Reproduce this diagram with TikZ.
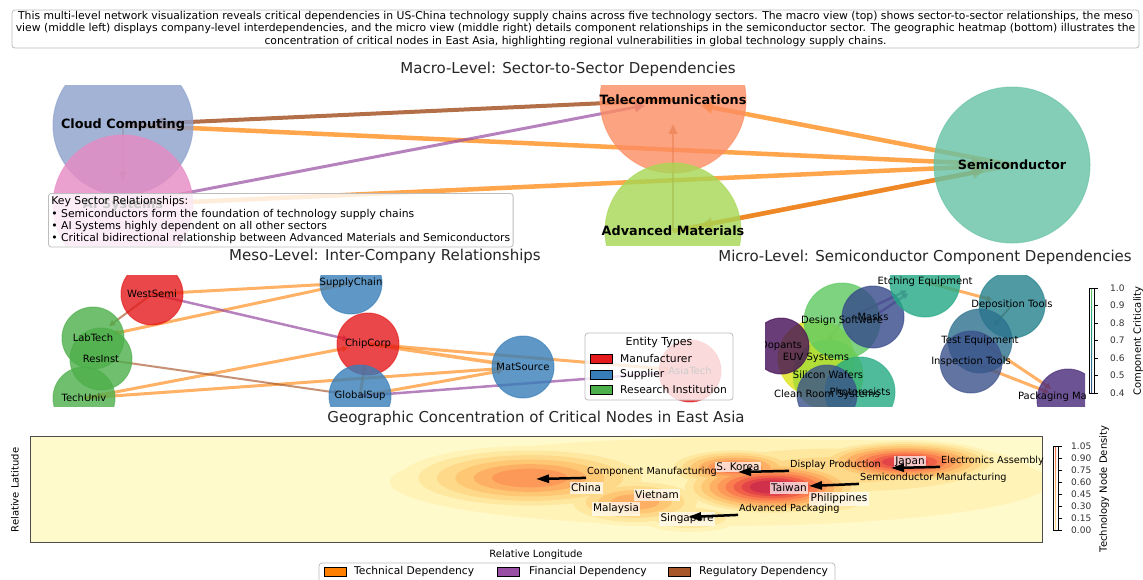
\documentclass[tikz,border=0pt]{standalone}
\usepackage{fontspec}
\setmainfont{DejaVu Sans}
\usetikzlibrary{calc, shapes, arrows.meta}

% sector colours (Set2)
\definecolor{cloudblue}{HTML}{8DA0CB}
\definecolor{telecomorange}{HTML}{FC8D62}
\definecolor{semigreen}{HTML}{66C2A5}
\definecolor{matgreen}{HTML}{A6D854}
\definecolor{aipink}{HTML}{E78AC3}
% dependency and entity colours (Set1)
\definecolor{techorange}{HTML}{FF7F00}
\definecolor{finpurple}{HTML}{984EA3}
\definecolor{regbrown}{HTML}{A65628}
\definecolor{manured}{HTML}{E41A1C}
\definecolor{supblue}{HTML}{377EB8}
\definecolor{resgreen}{HTML}{4DAF4A}
\definecolor{framegray}{HTML}{BDBDBD}
% component criticality
\definecolor{critetch}{HTML}{22A884}
\definecolor{critdepo}{HTML}{23818C}
\definecolor{critmask}{HTML}{35488A}
\definecolor{critdesign}{HTML}{5EC962}
\definecolor{critdopant}{HTML}{440D55}
\definecolor{criteuv}{HTML}{DCE319}
\definecolor{critwafer}{HTML}{A5DB36}
\definecolor{critresist}{HTML}{25AB82}
\definecolor{critclean}{HTML}{3B528B}
\definecolor{crittest}{HTML}{2C718E}
\definecolor{critinspect}{HTML}{3B528B}
\definecolor{critpack}{HTML}{482878}
\definecolor{vir0}{HTML}{440154}
\definecolor{vir1}{HTML}{414487}
\definecolor{vir2}{HTML}{2A788E}
\definecolor{vir3}{HTML}{22A884}
\definecolor{vir4}{HTML}{7AD151}
\definecolor{vir5}{HTML}{FDE725}
% density levels
\definecolor{hm0}{HTML}{FFFACC}
\definecolor{hm1}{HTML}{FFF3B8}
\definecolor{hm2}{HTML}{FEE8A0}
\definecolor{hm3}{HTML}{FED98A}
\definecolor{hm4}{HTML}{FEC774}
\definecolor{hm5}{HTML}{FDB064}
\definecolor{hm6}{HTML}{FC9858}
\definecolor{hm7}{HTML}{F97D4E}
\definecolor{hm8}{HTML}{F05F48}
\definecolor{hm9}{HTML}{E24448}
\definecolor{hm10}{HTML}{D0304A}

\pgfdeclareverticalshading{viridisbar}{10bp}{color(0bp)=(vir0); color(20bp)=(vir1); color(40bp)=(vir2); color(60bp)=(vir3); color(80bp)=(vir4); color(100bp)=(vir5)}
\pgfdeclareverticalshading{heatbar}{10bp}{color(0bp)=(hm0); color(20bp)=(hm2); color(40bp)=(hm4); color(60bp)=(hm6); color(80bp)=(hm8); color(100bp)=(hm10)}

\pgfdeclarelayer{background}
\pgfdeclarelayer{edges}
\pgfsetlayers{background,edges,main}

\begin{document}
\begin{tikzpicture}[x=1pt, y=-1pt]
    \tikzstyle{sector} = [circle, inner sep=0pt, line width=1pt, fill opacity=.8, draw opacity=.6]
    \tikzstyle{sectorname} = [font={\fontsize{12.8}{15}\selectfont\bfseries}]
    \tikzstyle{company} = [circle, inner sep=0pt, minimum size=62pt, line width=1pt, fill opacity=.8, draw opacity=.6]
    \tikzstyle{component} = [circle, inner sep=0pt, line width=1pt, fill opacity=.8, draw opacity=.6]
    \tikzstyle{itemname} = [inner sep=0pt, font={\fontsize{10}{12}\selectfont}]
    \tikzstyle{entryname} = [inner sep=0pt, anchor=west, font={\fontsize{10.7}{12}\selectfont}]
    \tikzstyle{paneltitle} = [font={\fontsize{15}{18}\selectfont}, text=black!85]
    \tikzstyle{smalltext} = [font={\fontsize{10.8}{12.4}\selectfont}]
    \tikzstyle{ticktext} = [font={\fontsize{9}{11}\selectfont}, text=black!80, anchor=west, inner sep=0pt]
    \tikzstyle{technical} = [draw=techorange, opacity=.7, line width=4.5pt, -{Triangle[length=12pt, width=12pt]}, shorten >=28pt]
    \tikzstyle{financial} = [draw=finpurple, opacity=.7, line width=3pt, -{Triangle[length=11pt, width=10pt]}, shorten >=28pt]
    \tikzstyle{regulatory} = [draw=regbrown, opacity=.85, line width=4pt, -{Triangle[length=12pt, width=11pt]}, shorten >=28pt]
    \tikzstyle{faint} = [draw=regbrown, opacity=.6, line width=2pt, -{Triangle[length=10pt, width=9pt]}, shorten >=24pt]
    \tikzstyle{mesotech} = [draw=techorange, opacity=.6, line width=3pt, -{Triangle[length=6pt, width=6pt]}, shorten >=20pt]
    \tikzstyle{mesofin} = [draw=finpurple, opacity=.7, line width=2.5pt, -{Triangle[length=6pt, width=6pt]}, shorten >=20pt]
    \tikzstyle{mesoreg} = [draw=regbrown, opacity=.65, line width=2pt, -{Triangle[length=6pt, width=6pt]}, shorten >=20pt]
    \tikzstyle{country} = [fill=white, fill opacity=.7, text opacity=1, inner sep=1.5pt, font={\fontsize{10.5}{12}\selectfont}]
    \tikzstyle{note} = [anchor=west, inner sep=1pt, font={\fontsize{9.7}{12}\selectfont}]
    \tikzstyle{pointer} = [draw=black, line width=2.5pt, -{Triangle[length=13pt, width=8pt]}]
    \tikzstyle{legendbox} = [draw=framegray, rounded corners=3pt, fill=white, fill opacity=.8, line width=.8pt, inner sep=0pt]
    \tikzstyle{patch} = [rectangle, draw=black, line width=.6pt, minimum width=22pt, minimum height=9pt, inner sep=0pt]

    \begin{pgfonlayer}{background}
        \fill[white] (0,0) rectangle (1143,579);
    \end{pgfonlayer}
    \useasboundingbox (0,0) rectangle (1143,579);

    % Caption --------------------------------------------
    \node[draw=framegray, rounded corners=3pt, line width=.8pt, align=center, minimum width=1127pt,
        minimum height=38pt, inner sep=1pt, smalltext] (caption) at (575.5,29) {
        This multi-level network visualization reveals critical dependencies in US-China technology supply chains across five technology sectors. The macro view (top) shows sector-to-sector relationships, the meso\\
        view (middle left) displays company-level interdependencies, and the micro view (middle right) details component relationships in the semiconductor sector. The geographic heatmap (bottom) illustrates the\\
        concentration of critical nodes in East Asia, highlighting regional vulnerabilities in global technology supply chains.
    };

    % Macro level ----------------------------------------
    \node[paneltitle] (macrotitle) at (568,69) {Macro-Level: Sector-to-Sector Dependencies};
    \begin{scope}
        \clip (40,85) rectangle (1110,245);
        \node[sector, fill=cloudblue, draw=cloudblue, minimum size=140pt] (cloud) at (123,125) {};
        \node[sector, fill=telecomorange, draw=telecomorange, minimum size=146pt] (telecom) at (673,100) {};
        \node[sector, fill=aipink, draw=aipink, minimum size=140pt] (ai) at (123,205) {};
        \node[sector, fill=matgreen, draw=matgreen, minimum size=136pt] (matl) at (673,231) {};
        \node[sector, fill=semigreen, draw=semigreen, minimum size=156pt] (semi) at (1012,165) {};
    \end{scope}
    \node[sectorname] (cloudname) at (cloud) {Cloud Computing};
    \node[sectorname] (ainame) at (ai) {AI Systems};
    \node[sectorname] (telecomname) at (telecom) {Telecommunications};
    \node[sectorname] (matlname) at (matl) {Advanced Materials};
    \node[sectorname] (seminame) at (semi) {Semiconductor};

    \begin{pgfonlayer}{edges}
        \draw[regulatory] (telecom.center) -- (cloud.center);
        \draw[technical] (cloud.center) -- (semi.center);
        \draw[financial] (ai.center) -- (telecom.center);
        \draw[technical] (ai.center) -- (semi.center);
        \draw[technical] (semi.center) -- (telecom.center);
        \draw[technical] (matl.center) -- (semi.center);
        \draw[technical, draw=techorange!70!regbrown, opacity=.6] (semi.center) -- (matl.center);
        \draw[faint] (matl.center) -- (telecom.center);
        \draw[faint] (cloud.center) -- (ai.center);
    \end{pgfonlayer}

    \node[legendbox, anchor=north west, align=left, text opacity=1, inner sep=3pt, smalltext] (keynote) at (48,193) {
        Key Sector Relationships:\\
        • Semiconductors form the foundation of technology supply chains\\
        • AI Systems highly dependent on all other sectors\\
        • Critical bidirectional relationship between Advanced Materials and Semiconductors
    };

    % Meso level -----------------------------------------
    \node[paneltitle] (mesotitle) at (385,256) {Meso-Level: Inter-Company Relationships};
    \begin{scope}
        \clip (40,275) rectangle (760,406);
        \node[company, fill=manured, draw=manured] (westsemi) at (152,294) {};
        \node[company, fill=manured, draw=manured] (chipcorp) at (368,344) {};
        \node[company, fill=manured, draw=manured] (asiatech) at (690,371) {};
        \node[company, fill=supblue, draw=supblue] (supplychain) at (351,283) {};
        \node[company, fill=supblue, draw=supblue] (globalsup) at (360,396) {};
        \node[company, fill=supblue, draw=supblue] (matsource) at (523,367) {};
        \node[company, fill=resgreen, draw=resgreen] (labtech) at (93,338) {};
        \node[company, fill=resgreen, draw=resgreen] (techuniv) at (84,398) {};
        \node[company, fill=resgreen, draw=resgreen] (resinst) at (101,359) {};
        \node[itemname] (westseminame) at (westsemi) {WestSemi};
        \node[itemname] (chipcorpname) at (chipcorp) {ChipCorp};
        \node[itemname] (asiatechname) at (asiatech) {AsiaTech};
        \node[itemname] (supplychainname) at (supplychain) {SupplyChain};
        \node[itemname] (globalsupname) at (globalsup) {GlobalSup};
        \node[itemname] (matsourcename) at (matsource) {MatSource};
        \node[itemname] (labtechname) at (labtech) {LabTech};
        \node[itemname] (techunivname) at (techuniv) {TechUniv};
        \node[itemname] (resinstname) at (resinst) {ResInst};
    \end{scope}

    \begin{pgfonlayer}{edges}
        \draw[mesotech] (westsemi.center) -- (supplychain.center);
        \draw[mesotech] (supplychain.center) -- (labtech.center);
        \draw[mesotech] (techuniv.center) -- (chipcorp.center);
        \draw[mesotech] (techuniv.center) -- (matsource.center);
        \draw[mesotech, line width=3.5pt] (chipcorp.center) -- (matsource.center);
        \draw[mesotech] (chipcorp.center) -- (asiatech.center);
        \draw[mesotech] (globalsup.center) -- (matsource.center);
        \draw[mesotech] (globalsup.center) -- (chipcorp.center);
        \draw[mesofin] (westsemi.center) -- (chipcorp.center);
        \draw[mesofin] (globalsup.center) -- (asiatech.center);
        \draw[mesoreg] (westsemi.center) -- (labtech.center);
        \draw[mesoreg] (resinst.center) -- (globalsup.center);
    \end{pgfonlayer}

    % entity legend
    \node[legendbox, minimum width=148pt, minimum height=67pt] (entitybox) at (659,366.5) {};
    \node[font={\fontsize{11}{13}\selectfont}] (entitytitle) at (659,342) {Entity Types};
    \node[patch, fill=manured] (manupatch) at (601,359) {};
    \node[patch, fill=supblue] (suppatch) at (601,374.5) {};
    \node[patch, fill=resgreen] (respatch) at (601,390) {};
    \node[entryname] (manutext) at (620,359) {Manufacturer};
    \node[entryname] (suptext) at (620,374.5) {Supplier};
    \node[entryname] (restext) at (620,390) {Research Institution};

    % Micro level ----------------------------------------
    \node[paneltitle] (microtitle) at (925,257) {Micro-Level: Semiconductor Component Dependencies};
    \begin{scope}
        \clip (765,275) rectangle (1085,406);
        \node[component, fill=criteuv, draw=criteuv, minimum size=76pt] (euv) at (816,358) {};
        \node[component, fill=critwafer, draw=critwafer, minimum size=70pt] (wafers) at (828,375) {};
        \node[component, fill=critdesign, draw=critdesign, minimum size=76pt] (design) at (842,321) {};
        \node[component, fill=critmask, draw=critmask, minimum size=62pt] (masks) at (873,317) {};
        \node[component, fill=critdopant, draw=critdopant, minimum size=56pt] (dopants) at (781,346) {};
        \node[component, fill=critresist, draw=critresist, minimum size=70pt] (resists) at (860,392) {};
        \node[component, fill=critclean, draw=critclean, minimum size=60pt] (cleanroom) at (827,395) {};
        \node[component, fill=critetch, draw=critetch, minimum size=70pt] (etching) at (925,282) {};
        \node[component, fill=critdepo, draw=critdepo, minimum size=66pt] (deposition) at (1012,305) {};
        \node[component, fill=crittest, draw=crittest, minimum size=64pt] (testeq) at (980,341) {};
        \node[component, fill=critinspect, draw=critinspect, minimum size=62pt] (inspection) at (971,362) {};
        \node[component, fill=critpack, draw=critpack, minimum size=62pt] (packaging) at (1068,400) {};
        \node[itemname] (euvname) at (euv) {EUV Systems};
        \node[itemname] (wafersname) at (wafers) {Silicon Wafers};
        \node[itemname] (designname) at (design) {Design Software};
        \node[itemname] (masksname) at (masks) {Masks};
        \node[itemname] (dopantsname) at (dopants) {Dopants};
        \node[itemname] (resistsname) at (resists) {Photoresists};
        \node[itemname] (cleanroomname) at (cleanroom) {Clean Room Systems};
        \node[itemname] (etchingname) at (etching) {Etching Equipment};
        \node[itemname] (depositionname) at (deposition) {Deposition Tools};
        \node[itemname] (testeqname) at (testeq) {Test Equipment};
        \node[itemname] (inspectionname) at (inspection) {Inspection Tools};
        \node[itemname] (packagingname) at (1068,397) {Packaging Materials};
    \end{scope}

    \begin{pgfonlayer}{edges}
        \draw[mesotech] (etching.center) -- (deposition.center);
        \draw[mesotech] (testeq.center) -- (packaging.center);
        \draw[mesotech] (inspection.center) -- (packaging.center);
        \draw[mesofin] (masks.center) -- (etching.center);
        \draw[mesofin] (design.center) -- (etching.center);
        \draw[mesoreg] (deposition.center) -- (testeq.center);
        \draw[mesoreg] (design.center) -- (euv.center);
    \end{pgfonlayer}

    % criticality colour bar
    \shade[shading=viridisbar] (1089,288) rectangle (1094,393);
    \draw[line width=.6pt] (1089,288) rectangle (1094,393);
    \foreach \v/\t [count=\i] in {288/1.0, 305.5/0.9, 323/0.8, 340.5/0.7, 358/0.6, 375.5/0.5, 393/0.4} {
        \draw[line width=.6pt] (1094,\v) -- (1097.5,\v);
        \node[ticktext] (crittick\i) at (1110,\v) {\t};
    }
    \node[rotate=90, font={\fontsize{10}{12}\selectfont}] (critlabel) at (1138,341) {Component Criticality};

    % Geographic heatmap ---------------------------------
    \node[paneltitle] (geotitle) at (536,418) {Geographic Concentration of Critical Nodes in East Asia};
    \begin{scope}
        \clip (30,436) rectangle (1042,542);
        \fill[hm0] (30,436) rectangle (1042,542);
        \foreach \lev in {1,...,10} {
            \foreach \cx/\cy/\rx/\ry/\pk in {720/482/330/44/1, 840/470/190/30/3, 530/478/130/32/6, 635/502/75/24/5,
                690/518/50/14/3, 735/468/70/20/7, 772/487/95/28/10, 835/500/40/14/3, 905/462/95/22/9} {
                \ifnum\lev>\pk\relax\else
                    \pgfmathsetmacro\rxs{(1-0.85*(\lev-1)/\pk)*\rx}
                    \pgfmathsetmacro\rys{(1-0.85*(\lev-1)/\pk)*\ry}
                    \fill[fill=hm\lev] (\cx,\cy) ellipse [x radius=\rxs pt, y radius=\rys pt];
                \fi
            }
        }
    \end{scope}
    \draw[line width=1pt, black!70] (30,436) rectangle (1042,542);

    \node[country] (china) at (586,488) {China};
    \node[country] (vietnam) at (657,495) {Vietnam};
    \node[country] (malaysia) at (616,509) {Malaysia};
    \node[country] (singapore) at (687,519) {Singapore};
    \node[country] (korea) at (738,467) {S. Korea};
    \node[country] (taiwan) at (789,488) {Taiwan};
    \node[country] (philippines) at (839,499) {Philippines};
    \node[country] (japan) at (910,462) {Japan};

    \coordinate (chinahot) at (536,479);
    \coordinate (koreahot) at (738,472);
    \coordinate (japanhot) at (891,468);
    \coordinate (taiwanhot) at (809,486);
    \coordinate (singhot) at (688,517);
    \node[note] (compman) at (586,472) {Component Manufacturing};
    \node[note] (dispprod) at (789,465) {Display Production};
    \node[note] (elecasm) at (940,461) {Electronics Assembly};
    \node[note] (semiman) at (859,478) {Semiconductor Manufacturing};
    \node[note] (advpack) at (738,509) {Advanced Packaging};
    \draw[pointer] (compman.south west) -- (chinahot);
    \draw[pointer] (dispprod.south west) -- (koreahot);
    \draw[pointer] (elecasm.south west) -- (japanhot);
    \draw[pointer] (semiman.south west) -- (taiwanhot);
    \draw[pointer] (advpack.south west) -- (singhot);

    \node[rotate=90, font={\fontsize{10}{12}\selectfont}] (latlabel) at (15,490) {Relative Latitude};
    \node[font={\fontsize{10}{12}\selectfont}] (lonlabel) at (536,555) {Relative Longitude};

    % density colour bar
    \shade[shading=heatbar] (1053,446) rectangle (1058,530);
    \draw[line width=.6pt] (1053,446) rectangle (1058,530);
    \foreach \v/\t [count=\i] in {530/0.00, 518/0.15, 506/0.30, 494/0.45, 482/0.60, 470/0.75, 458/0.90, 446/1.05} {
        \draw[line width=.6pt] (1058,\v) -- (1061.5,\v);
        \node[ticktext] (densetick\i) at (1071,\v) {\t};
    }
    \node[rotate=90, font={\fontsize{10}{12}\selectfont}] (denselabel) at (1104,489) {Technology Node Density};

    % dependency legend
    \node[legendbox, minimum width=516pt, minimum height=22pt] (deplegend) at (577,574) {};
    \node[patch, fill=techorange] (techpatch) at (335.5,572) {};
    \node[patch, fill=finpurple] (finpatch) at (508.5,572) {};
    \node[patch, fill=regbrown] (regpatch) at (679.5,572) {};
    \node[entryname] (techtext) at (354,572) {Technical Dependency};
    \node[entryname] (fintext) at (529,572) {Financial Dependency};
    \node[entryname] (regtext) at (699,572) {Regulatory Dependency};
\end{tikzpicture}
\end{document}
